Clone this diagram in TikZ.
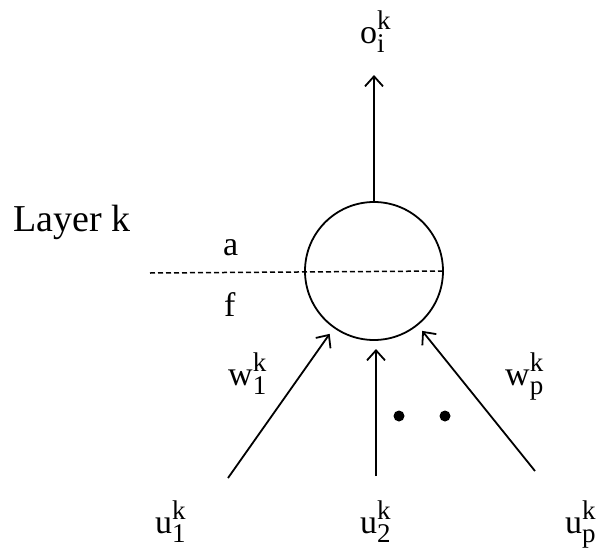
\documentclass[tikz,border=0pt]{standalone}
\usepackage{fontspec}
\setmainfont{Liberation Serif}
\usetikzlibrary{arrows.meta}
\newcommand{\sv}[3]{#1\rlap{\raisebox{14pt}{\fontsize{27}{27}\selectfont #2}}\raisebox{-9pt}{\fontsize{27}{27}\selectfont #3}}
\tikzset{
  lbl/.style={inner sep=0pt, anchor=base west, font=\fontsize{34}{34}\selectfont},
  conn/.style={line width=1.8pt, -{Straight Barb[length=10pt,width=18pt,line width=1.8pt]}},
  dot/.style={circle, fill=black, inner sep=0pt, minimum size=11pt}
}
\begin{document}
\begin{tikzpicture}[x=1pt,y=-1pt]
\useasboundingbox (0,0) rectangle (600,557);
% neuron
\node[circle, draw, line width=1.8pt, minimum size=138pt, inner sep=0pt] (c) at (374,271) {};
% dashed layer line
\coordinate (dl) at (150,273);
\draw[line width=1.5pt, dash pattern=on 5pt off 3pt] (dl) -- (c.east);
% output
\coordinate (top) at (374,75);
\draw[conn] (c.north) -- (top);
% inputs
\coordinate (s1) at (228,478);
\coordinate (s2) at (376,476);
\coordinate (s3) at (535,471);
\draw[conn, shorten >=7pt] (s1) -- (c);
\coordinate (t2) at (376,349);
\draw[conn] (s2) -- (t2);
\draw[conn, shorten >=7pt] (s3) -- (c);
% dots
\node[dot] (d1) at (399,416) {};
\node[dot] (d2) at (445,416) {};
% labels
\node[lbl, font=\fontsize{38}{38}\selectfont] (layer) at (13,231) {Layer k};
\node[lbl] (la) at (223,255) {a};
\node[lbl] (lf) at (224,316) {f};
\node[lbl] (o) at (360,43) {\sv{o}{k}{i}};
\node[lbl] (w1) at (228,385) {\sv{w}{k}{1}};
\node[lbl] (wp) at (505,385) {\sv{w}{k}{p}};
\node[lbl] (u1) at (155,533) {\sv{u}{k}{1}};
\node[lbl] (u2) at (360,533) {\sv{u}{k}{2}};
\node[lbl] (up) at (565,533) {\sv{u}{k}{p}};
\end{tikzpicture}
\end{document}
